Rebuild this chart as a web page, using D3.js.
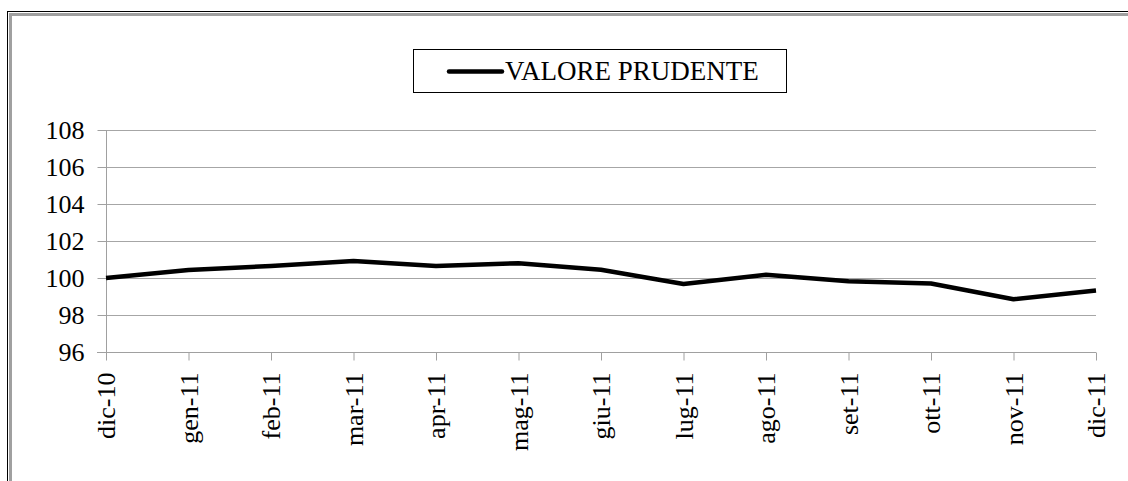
<!DOCTYPE html>
<html><head><meta charset="utf-8">
<script src="https://cdn.jsdelivr.net/npm/d3@7"></script>
</head><body style="margin:0">
<script>
const categories = ["dic-10","gen-11","feb-11","mar-11","apr-11","mag-11","giu-11","lug-11","ago-11","set-11","ott-11","nov-11","dic-11"];
const valorePrudente = [100.0,100.43,100.65,100.92,100.65,100.8,100.45,99.68,100.17,99.82,99.7,98.85,99.32];
const yTicks = [96,98,100,102,104,106,108];
const seriesName = "VALORE PRUDENTE";

(function(){
const W = 1128, H = 481;
const FONT = "Liberation Serif";
const svg = d3.select("body").append("svg").attr("width", W).attr("height", H)
  .attr("font-family", FONT);

// outer frame (only top/left visible)
svg.append("rect").attr("x",7.5).attr("y",11.5).attr("width",1200).attr("height",600)
  .attr("fill","none").attr("stroke","#000").attr("stroke-width",1);
svg.append("rect").attr("x",10.5).attr("y",14.5).attr("width",1200).attr("height",600)
  .attr("fill","none").attr("stroke","#a0a0a0").attr("stroke-width",3);

const pL = 106, pR = 1096, pT = 130, pB = 352;
const x = d3.scalePoint().domain(categories).range([pL, pR]);
const y = d3.scaleLinear().domain([96,108]).range([pB, pT]);

// gridlines
svg.append("g").selectAll("line").data(yTicks.filter(d=>d!==96)).join("line")
  .attr("x1", pL).attr("x2", pR)
  .attr("y1", d=>Math.round(y(d))+0.5).attr("y2", d=>Math.round(y(d))+0.5)
  .attr("stroke","#a6a6a6").attr("stroke-width",1);

// y axis
const yAxis = svg.append("g").attr("transform",`translate(${pL+0.5},0)`)
  .call(d3.axisLeft(y).tickValues(yTicks).tickSize(9).tickPadding(13).tickFormat(d3.format("d")))
  .attr("font-family", FONT).attr("font-size", 26);
yAxis.selectAll("path,line").attr("stroke","#a0a0a0");
yAxis.selectAll("text").attr("font-family",FONT).attr("font-size",26).attr("fill","#000");
yAxis.select(".domain").attr("d",`M0,${pT}V${pB}`);

// x axis
const xAxis = svg.append("g").attr("transform",`translate(0,${pB+0.5})`)
  .call(d3.axisBottom(x).tickSize(8).tickSizeOuter(0))
  .attr("font-family", FONT).attr("font-size", 26);
xAxis.selectAll("path,line").attr("stroke","#a0a0a0");
xAxis.select(".domain").attr("d",`M${pL-9},0H${pR}`);
xAxis.selectAll("text")
  .attr("font-family",FONT).attr("font-size",26).attr("fill","#000")
  .attr("transform","rotate(-90)")
  .attr("text-anchor","end")
  .attr("x",-20).attr("y",0).attr("dy","0.33em");

// line
svg.append("path").datum(valorePrudente)
  .attr("fill","none").attr("stroke","#000").attr("stroke-width",4.5)
  .attr("stroke-linejoin","round")
  .attr("d", d3.line().x((d,i)=>x(categories[i])).y(d=>y(d)));

// legend
const lg = svg.append("g");
lg.append("rect").attr("x",413.5).attr("y",49.5).attr("width",373).attr("height",43)
  .attr("fill","#fff").attr("stroke","#000").attr("stroke-width",1);
lg.append("line").attr("x1",449).attr("x2",502).attr("y1",71.5).attr("y2",71.5)
  .attr("stroke","#000").attr("stroke-width",4.5).attr("stroke-linecap","round");
lg.append("text").attr("x",505).attr("y",80)
  .attr("font-family",FONT).attr("font-size",27)
  .attr("fill","#000").text(seriesName);
})();
</script>
</body></html>
